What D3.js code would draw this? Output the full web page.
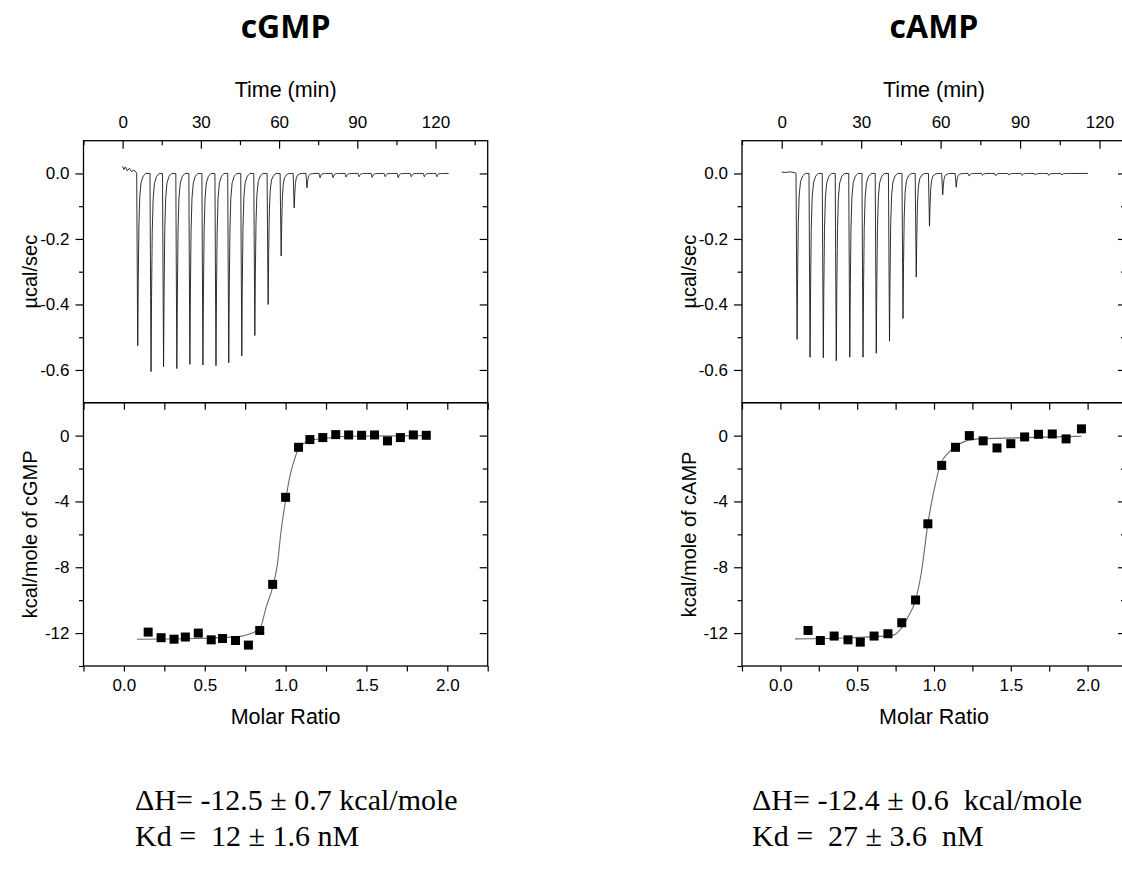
<!DOCTYPE html>
<html>
<head>
<meta charset="utf-8">
<script src="https://cdn.jsdelivr.net/npm/d3@7"></script>
<style>
  html, body { margin: 0; padding: 0; background: #fff; overflow: hidden; }
  svg { display: block; }
</style>
</head>
<body>
<svg id="chart" width="1122" height="875"></svg>
<script>
// ---------------- data ----------------
const panelTitles = ["cGMP", "cAMP"];
const yTitlesBottom = ["kcal/mole of cGMP", "kcal/mole of cAMP"];
const timeTicks = [0, 30, 60, 90, 120];
const timeMinorTicks = [-15, 15, 45, 75, 105, 135];
const powerTicks = [0.0, -0.2, -0.4, -0.6];
const powerMinorTicks = [-0.1, -0.3, -0.5];
const heatTicks = [0, -4, -8, -12];
const heatMinorTicks = [-2, -6, -10, -14];
const ratioTicks = [0.0, 0.5, 1.0, 1.5, 2.0];
const ratioMinorTicks = [-0.25, 0.25, 0.75, 1.25, 1.75, 2.25];

// raw thermogram: injection times (min) and peak minima (µcal/sec)
const cgmpInjTime = [5.4, 10.5, 15.3, 20.4, 25.4, 30.4, 35.4, 40.3, 45.3, 50.3, 55.4, 60.4, 65.4, 70.3,
                     75.3, 80.3, 85.3, 90.3, 95.3, 100.3, 105.3, 110.3, 115.3, 120.1];
const cgmpPeak = [-0.526, -0.605, -0.590, -0.596, -0.583, -0.585, -0.587, -0.578, -0.557, -0.495, -0.400, -0.252, -0.105, -0.044,
                  -0.013, -0.013, -0.011, -0.010, -0.012, -0.010, -0.013, -0.010, -0.010, -0.010];
const cgmpStart = [[0, 0.022], [0.5, 0.012], [1.1, 0.02], [1.8, 0.008], [2.6, 0.016], [3.4, 0.006], [4.3, 0.01], [5.2, 0.004]];
const cgmpEnd = 125;

const campInjTime = [5.4, 10.3, 15.3, 20.2, 25.3, 30.3, 35.3, 40.3, 45.4, 50.4, 55.4, 60.4, 65.5,
                     70.4, 75.4, 80.4, 85.4, 90.4, 95.4, 100.4, 105.4];
const campPeak = [-0.507, -0.561, -0.563, -0.572, -0.561, -0.561, -0.549, -0.512, -0.443, -0.316, -0.161, -0.065, -0.042,
                  -0.008, -0.006, -0.007, -0.005, -0.006, -0.005, -0.006, -0.005];
const campStart = [[0, 0.004], [1.5, 0.003], [3, 0.005], [5.2, 0.002]];
const campEnd = 115.6;

// integrated heats (kcal/mole of injectant) vs molar ratio
const cgmpRatio = [0.15, 0.23, 0.31, 0.38, 0.46, 0.54, 0.61, 0.69, 0.77, 0.84, 0.92, 1.00, 1.08, 1.15, 1.23, 1.31,
                   1.39, 1.47, 1.55, 1.63, 1.71, 1.79, 1.87];
const cgmpHeat = [-11.94, -12.28, -12.37, -12.24, -12.0, -12.41, -12.33, -12.45, -12.73, -11.84, -9.04, -3.75, -0.71,
                  -0.24, -0.12, 0.06, 0.04, 0.02, 0.04, -0.32, -0.12, 0.04, 0.02];
const cgmpFitRatio = [0.08, 0.45, 0.72, 0.78, 0.84, 0.88, 0.92, 0.95, 0.97, 1.00, 1.03, 1.06, 1.08, 1.11, 1.15, 1.23, 1.38, 1.87];
const cgmpFitHeat = [-12.37, -12.33, -12.2, -12.04, -11.74, -10.42, -9.2, -7.78, -5.96, -3.93, -2.31, -1.30, -0.79, -0.49,
                     -0.28, -0.18, -0.04, 0.0];

const campRatio = [0.18, 0.26, 0.35, 0.44, 0.52, 0.61, 0.70, 0.79, 0.88, 0.96, 1.05, 1.14, 1.23, 1.32, 1.41, 1.50,
                   1.59, 1.68, 1.77, 1.86, 1.96];
const campHeat = [-11.84, -12.45, -12.18, -12.41, -12.55, -12.18, -12.04, -11.37, -9.99, -5.36, -1.81, -0.71, 0.0,
                  -0.32, -0.75, -0.49, -0.08, 0.08, 0.10, -0.20, 0.41];
const campFitRatio = [0.095, 0.46, 0.73, 0.78, 0.83, 0.88, 0.92, 0.96, 1.005, 1.04, 1.09, 1.145, 1.21, 1.30, 1.53, 1.96];
const campFitHeat = [-12.35, -12.28, -12.14, -11.79, -11.03, -9.99, -8.18, -5.36, -3.11, -1.79, -1.08, -0.63, -0.32,
                     -0.20, -0.14, -0.04];

const resultLines = [
  ["\u0394H= -12.5 \u00B1 0.7 kcal/mole", "Kd =  12 \u00B1 1.6 nM"],
  ["\u0394H= -12.4 \u00B1 0.6  kcal/mole", "Kd =  27 \u00B1 3.6  nM"]
];

// normalised shape of one injection peak (time offset in min, fraction of peak)
const spikeShape = [[0, 0], [0.15, 0.4], [0.4, 1], [0.6, 0.62], [0.85, 0.3], [1.2, 0.13], [1.7, 0.05], [2.5, 0.015], [3.5, 0]];

// ---------------- drawing ----------------
const svg = d3.select("#chart");
svg.append("rect").attr("width", 1122).attr("height", 875).attr("fill", "#fff");

const SANS = "'Liberation Sans', Arial, sans-serif";
const TICK_FS = 17;
const fmt1 = d => d.toFixed(1);
const fmt0 = d => String(d);

function buildTrace(start, times, peaks, end) {
  const pts = start.map(d => [d[0], d[1]]);
  times.forEach((t0, i) => {
    spikeShape.forEach(([dt, f]) => pts.push([t0 + dt, peaks[i] * f]));
  });
  pts.push([end, 0]);
  return pts;
}

function styleAxis(g) {
  g.select(".domain").remove();
  g.selectAll(".tick line").attr("stroke", "#000").attr("stroke-width", 1.2);
  g.selectAll(".tick text").attr("fill", "#000").style("font-family", SANS).style("font-size", TICK_FS + "px");
}

function drawPanel(cfg) {
  const { L, R, top, mid, bottom, tMax } = cfg;
  const g = svg.append("g");
  const xTime = d3.scaleLinear().domain([-15, tMax]).range([L, R]);
  const xRatio = d3.scaleLinear().domain([-0.25, 2.25]).range([L, R]);
  const yPow = d3.scaleLinear().domain([-0.7, 0.1]).range([mid, top]);
  const yHeat = d3.scaleLinear().domain([-14, 2]).range([bottom, mid]);

  // title
  g.append("text").attr("x", (L + R) / 2).attr("y", 38).attr("text-anchor", "middle")
    .style("font-family", "'Open Sans', 'Noto Sans', sans-serif").style("font-weight", 700)
    .style("font-size", "32px").text(cfg.title);

  // ---- top panel axes ----
  styleAxis(g.append("g").attr("transform", `translate(0,${top})`)
    .call(d3.axisTop(xTime).tickValues(timeTicks).tickSizeInner(-8).tickSizeOuter(0).tickPadding(12.5).tickFormat(fmt0)));
  styleAxis(g.append("g").attr("transform", `translate(0,${top})`)
    .call(d3.axisTop(xTime).tickValues(timeMinorTicks).tickSizeInner(-4.5).tickSizeOuter(0).tickFormat("")));

  styleAxis(g.append("g").attr("transform", `translate(${L},0)`)
    .call(d3.axisLeft(yPow).tickValues(powerTicks).tickSizeInner(8).tickSizeOuter(0).tickPadding(6).tickFormat(fmt1)));
  styleAxis(g.append("g").attr("transform", `translate(${L},0)`)
    .call(d3.axisLeft(yPow).tickValues(powerMinorTicks).tickSizeInner(4.5).tickSizeOuter(0).tickFormat("")));
  styleAxis(g.append("g").attr("transform", `translate(${R},0)`)
    .call(d3.axisRight(yPow).tickValues(powerTicks).tickSizeInner(-8).tickSizeOuter(0).tickFormat("")));
  styleAxis(g.append("g").attr("transform", `translate(${R},0)`)
    .call(d3.axisRight(yPow).tickValues(powerMinorTicks).tickSizeInner(-5).tickSizeOuter(0).tickFormat("")));

  // ---- bottom panel axes ----
  styleAxis(g.append("g").attr("transform", `translate(0,${bottom})`)
    .call(d3.axisBottom(xRatio).tickValues(ratioTicks).tickSizeInner(5.5).tickSizeOuter(0).tickPadding(7).tickFormat(fmt1)));
  styleAxis(g.append("g").attr("transform", `translate(0,${bottom})`)
    .call(d3.axisBottom(xRatio).tickValues(ratioMinorTicks).tickSizeInner(5.5).tickSizeOuter(0).tickFormat("")));
  styleAxis(g.append("g").attr("transform", `translate(0,${mid})`)
    .call(d3.axisTop(xRatio).tickValues(ratioTicks.concat(ratioMinorTicks)).tickSizeInner(-7).tickSizeOuter(0).tickFormat("")));

  styleAxis(g.append("g").attr("transform", `translate(${L},0)`)
    .call(d3.axisLeft(yHeat).tickValues(heatTicks).tickSizeInner(8).tickSizeOuter(0).tickPadding(6).tickFormat(fmt0)));
  styleAxis(g.append("g").attr("transform", `translate(${L},0)`)
    .call(d3.axisLeft(yHeat).tickValues(heatMinorTicks).tickSizeInner(4.5).tickSizeOuter(0).tickFormat("")));
  styleAxis(g.append("g").attr("transform", `translate(${R},0)`)
    .call(d3.axisRight(yHeat).tickValues(heatTicks).tickSizeInner(-8).tickSizeOuter(0).tickFormat("")));
  styleAxis(g.append("g").attr("transform", `translate(${R},0)`)
    .call(d3.axisRight(yHeat).tickValues(heatMinorTicks.slice(0, 3)).tickSizeInner(-5).tickSizeOuter(0).tickFormat("")));

  // frames
  g.append("rect").attr("x", L).attr("y", top).attr("width", R - L).attr("height", mid - top)
    .attr("fill", "none").attr("stroke", "#000").attr("stroke-width", 1.3);
  g.append("rect").attr("x", L).attr("y", mid).attr("width", R - L).attr("height", bottom - mid)
    .attr("fill", "none").attr("stroke", "#000").attr("stroke-width", 1.3);

  // axis titles
  g.append("text").attr("x", (L + R) / 2).attr("y", 97).attr("text-anchor", "middle")
    .style("font-family", SANS).style("font-size", "21.5px").text("Time (min)");
  g.append("text").attr("x", (L + R) / 2).attr("y", 724).attr("text-anchor", "middle")
    .style("font-family", SANS).style("font-size", "21.5px").text("Molar Ratio");
  g.append("text").attr("transform", `translate(${L - 46.5},${(top + mid) / 2}) rotate(-90)`).attr("text-anchor", "middle")
    .style("font-family", SANS).style("font-size", "20px").text("\u00B5cal/sec");
  g.append("text").attr("transform", `translate(${L - 46.5},${(mid + bottom) / 2}) rotate(-90)`).attr("text-anchor", "middle")
    .style("font-family", SANS).style("font-size", "20px").text(cfg.yTitle);

  // thermogram
  const trace = buildTrace(cfg.start, cfg.injTime, cfg.peak, cfg.end);
  g.append("path").datum(trace)
    .attr("d", d3.line().x(d => xTime(d[0])).y(d => yPow(d[1])))
    .attr("fill", "none").attr("stroke", "#1a1a1a").attr("stroke-width", 0.9).attr("stroke-linejoin", "round");

  // fit curve
  const fit = cfg.fitRatio.map((r, i) => [r, cfg.fitHeat[i]]);
  g.append("path").datum(fit)
    .attr("d", d3.line().x(d => xRatio(d[0])).y(d => yHeat(d[1])).curve(d3.curveMonotoneX))
    .attr("fill", "none").attr("stroke", "#6a6a6a").attr("stroke-width", 1.1);

  // squares
  const sq = 9;
  g.append("g").selectAll("rect").data(cfg.ratio.map((r, i) => [r, cfg.heat[i]])).join("rect")
    .attr("x", d => xRatio(d[0]) - sq / 2).attr("y", d => yHeat(d[1]) - sq / 2)
    .attr("width", sq).attr("height", sq).attr("fill", "#000");

  // results text
  cfg.results.forEach((t, i) => {
    g.append("text").attr("x", cfg.textX).attr("y", 810 + i * 36)
      .attr("xml:space", "preserve").style("white-space", "pre")
      .style("font-family", "'Liberation Serif', 'Times New Roman', serif").style("font-size", "30px").text(t);
  });
}

drawPanel({
  L: 83.5, R: 487.7, top: 140.7, mid: 402.7, bottom: 666, tMax: 140,
  title: panelTitles[0], yTitle: yTitlesBottom[0],
  injTime: cgmpInjTime, peak: cgmpPeak, start: cgmpStart, end: cgmpEnd,
  ratio: cgmpRatio, heat: cgmpHeat, fitRatio: cgmpFitRatio, fitHeat: cgmpFitHeat,
  results: resultLines[0], textX: 135
});
drawPanel({
  L: 742, R: 1126, top: 140.7, mid: 402.7, bottom: 666, tMax: 130,
  title: panelTitles[1], yTitle: yTitlesBottom[1],
  injTime: campInjTime, peak: campPeak, start: campStart, end: campEnd,
  ratio: campRatio, heat: campHeat, fitRatio: campFitRatio, fitHeat: campFitHeat,
  results: resultLines[1], textX: 752
});
</script>
</body>
</html>
